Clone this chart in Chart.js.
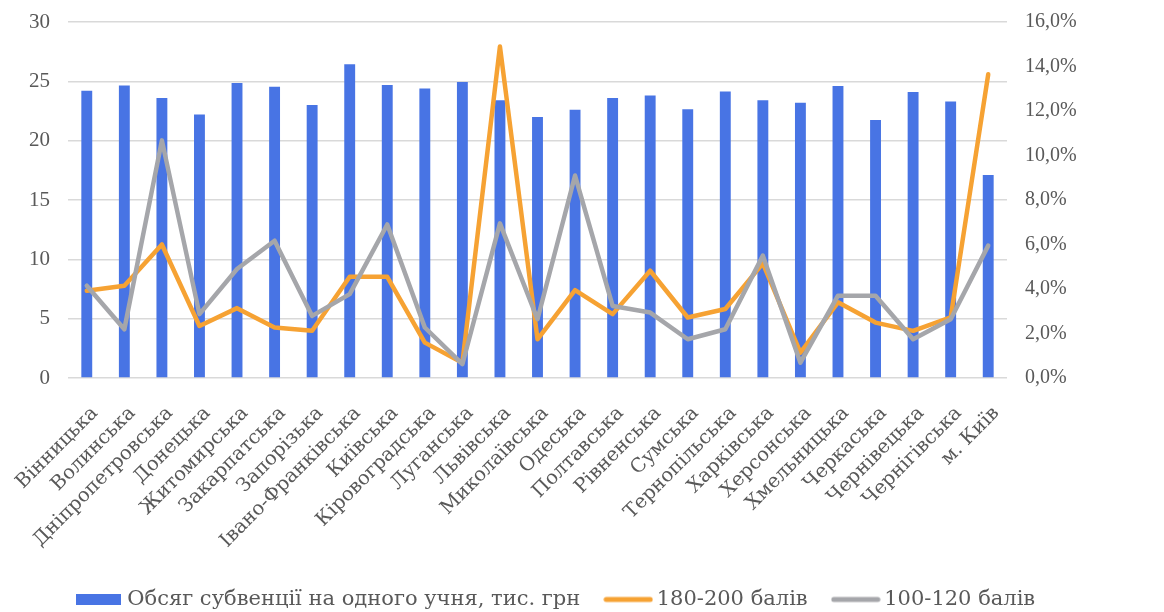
<!DOCTYPE html>
<html lang="uk">
<head>
<meta charset="UTF-8">
<title>Обсяг субвенції та частка результатів ЗНО</title>
<script src="https://cdn.jsdelivr.net/npm/chart.js"></script>
<style>
  html, body { margin: 0; padding: 0; background: #fff; }
  #wrap { width: 1164px; height: 612px; position: relative; }
</style>
</head>
<body>
<div id="wrap"><canvas id="chart"></canvas></div>
<script>
  // регіони (вісь X)
  const regions = [
    'Вінницька', 'Волинська', 'Дніпропетровська', 'Донецька', 'Житомирська',
    'Закарпатська', 'Запорізька', 'Івано-Франківська', 'Київська', 'Кіровоградська',
    'Луганська', 'Львівська', 'Миколаївська', 'Одеська', 'Полтавська',
    'Рівненська', 'Сумська', 'Тернопільська', 'Харківська', 'Херсонська',
    'Хмельницька', 'Черкаська', 'Чернівецька', 'Чернігівська', 'м. Київ'
  ];

  // тис. грн на одного учня (ліва вісь)
  const subvention = [
    24.2, 24.65, 23.6, 22.2, 24.85,
    24.55, 23.0, 26.45, 24.7, 24.4,
    24.95, 23.4, 22.0, 22.6, 23.6,
    23.8, 22.65, 24.15, 23.4, 23.2,
    24.6, 21.75, 24.1, 23.3, 17.1
  ];

  // частка учнів, % (права вісь)
  const score180 = [
    3.92, 4.15, 6.0, 2.34, 3.14,
    2.27, 2.12, 4.55, 4.55, 1.59,
    0.69, 14.9, 1.74, 3.95, 2.87,
    4.82, 2.72, 3.1, 5.15, 1.14,
    3.4, 2.49, 2.12, 2.72, 13.65
  ];
  const score100 = [
    4.15, 2.19, 10.68, 2.87, 4.9,
    6.17, 2.79, 3.77, 6.9, 2.27,
    0.62, 6.95, 2.64, 9.1, 3.24,
    2.94, 1.74, 2.19, 5.5, 0.69,
    3.7, 3.7, 1.74, 2.64, 5.95
  ];

  const seriesNames = ['Обсяг субвенції на одного учня, тис. грн', '180-200 балів', '100-120 балів'];
  const colors = ['#4874E4', '#F6A233', '#A5A6AA'];

  const TICK_FONT = "'Liberation Serif', 'DejaVu Serif', serif";
  const LABEL_FONT = "'DejaVu Serif', 'Liberation Serif', serif";
  const TEXT = '#595959';

  // маркери легенди
  function marker(kind, color) {
    const c = document.createElement('canvas');
    const ctx = c.getContext('2d');
    if (kind === 'box') {
      c.width = 45; c.height = 11;
      ctx.fillStyle = color;
      ctx.fillRect(0, 0, 45, 11);
    } else {
      c.width = 50; c.height = 8;
      ctx.strokeStyle = color;
      ctx.lineWidth = 5;
      ctx.lineCap = 'round';
      ctx.beginPath();
      ctx.moveTo(3, 4);
      ctx.lineTo(47, 4);
      ctx.stroke();
    }
    return c;
  }
  const markers = [marker('box', colors[0]), marker('line', colors[1]), marker('line', colors[2])];

  // легенда трохи лівіше і нижче, як в оригіналі
  const legendNudge = {
    id: 'legendNudge',
    afterLayout(chart) {
      const lg = chart.legend;
      if (!lg) return;
      lg.left -= 24; lg.right -= 24;
      lg.top += 8; lg.bottom += 8;
    }
  };

  // без додаткового відступу зверху/знизу для вертикальних осей
  const noVPad = (s) => { s.paddingTop = 0; s.paddingBottom = 0; };

  new Chart(document.getElementById('chart'), {
    type: 'bar',
    data: {
      labels: regions,
      datasets: [
        {
          type: 'bar', label: seriesNames[0], data: subvention, yAxisID: 'y',
          backgroundColor: colors[0], barPercentage: 0.29, categoryPercentage: 1, order: 2
        },
        {
          type: 'line', label: seriesNames[1], data: score180, yAxisID: 'y1',
          borderColor: colors[1], borderWidth: 4.5, pointRadius: 0, tension: 0,
          borderJoinStyle: 'round', borderCapStyle: 'round', order: 1
        },
        {
          type: 'line', label: seriesNames[2], data: score100, yAxisID: 'y1',
          borderColor: colors[2], borderWidth: 4.5, pointRadius: 0, tension: 0,
          borderJoinStyle: 'round', borderCapStyle: 'round', order: 0
        }
      ]
    },
    plugins: [legendNudge],
    options: {
      responsive: true,
      maintainAspectRatio: false,
      animation: false,
      layout: { padding: { top: 22, bottom: 0, left: 0, right: 0 } },
      plugins: {
        tooltip: { enabled: false },
        legend: {
          position: 'bottom',
          labels: {
            font: { family: LABEL_FONT, size: 21 },
            color: TEXT,
            usePointStyle: true,
            pointStyleWidth: 36,
            padding: 30,
            generateLabels: (chart) => chart.data.datasets.map((ds, i) => ({
              text: ds.label,
              pointStyle: markers[i],
              fillStyle: colors[i],
              strokeStyle: colors[i],
              lineWidth: 0,
              fontColor: TEXT,
              datasetIndex: i
            }))
          }
        }
      },
      scales: {
        x: {
          grid: { display: false },
          border: { display: false },
          ticks: {
            font: { family: LABEL_FONT, size: 19.5 },
            color: TEXT,
            maxRotation: 45,
            minRotation: 45,
            autoSkip: false,
            padding: 16,
            labelOffset: 8
          },
          afterFit: (s) => { s.height = 173; s.paddingLeft = 0; s.paddingRight = 0; }
        },
        y: {
          position: 'left',
          min: 0, max: 30,
          ticks: { stepSize: 5, font: { family: TICK_FONT, size: 21 }, color: TEXT, padding: 18 },
          grid: { color: '#D9D9D9', lineWidth: 1.5, drawTicks: false },
          border: { display: false },
          afterFit: (s) => { s.width = 68; noVPad(s); }
        },
        y1: {
          position: 'right',
          min: 0, max: 16,
          ticks: {
            stepSize: 2,
            font: { family: TICK_FONT, size: 20 },
            color: TEXT,
            padding: 18,
            callback: (v) => v.toFixed(1).replace('.', ',') + '%'
          },
          grid: { display: false, drawTicks: false },
          border: { display: false },
          afterFit: (s) => { s.width = 157; noVPad(s); }
        }
      }
    }
  });
</script>
</body>
</html>
